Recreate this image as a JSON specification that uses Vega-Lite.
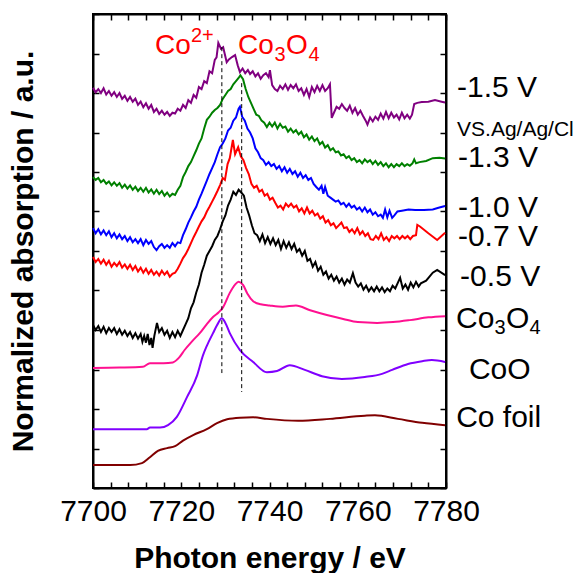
{
  "$schema": "https://vega.github.io/schema/vega-lite/v6.json",
  "width": 353,
  "height": 474,
  "autosize": {"type": "none"},
  "padding": {"left": 93, "top": 14, "right": 134, "bottom": 85},
  "config": {
    "font": "Liberation Sans",
    "view": {"stroke": "black", "strokeWidth": 2},
    "axis": {"grid": false, "domainColor": "black", "domainWidth": 2, "tickColor": "black", "tickWidth": 1.5, "labelColor": "black", "titleColor": "black", "labelFont": "Liberation Sans", "titleFont": "Liberation Sans"}
  },
  "datasets": {
    "curves": [
      {"s":"-1.5 V","e":7700,"a":10.13},{"s":"-1.5 V","e":7700.6,"a":10.02},{"s":"-1.5 V","e":7701.2,"a":10.1},{"s":"-1.5 V","e":7701.8,"a":10.0},{"s":"-1.5 V","e":7702.4,"a":10.12},{"s":"-1.5 V","e":7703,"a":9.96},{"s":"-1.5 V","e":7703.6,"a":10.05},{"s":"-1.5 V","e":7704.2,"a":9.93},{"s":"-1.5 V","e":7704.8,"a":10.02},{"s":"-1.5 V","e":7705.4,"a":9.9},{"s":"-1.5 V","e":7706,"a":10.0},{"s":"-1.5 V","e":7706.6,"a":9.85},{"s":"-1.5 V","e":7707.2,"a":9.93},{"s":"-1.5 V","e":7707.8,"a":9.8},{"s":"-1.5 V","e":7708.4,"a":9.9},{"s":"-1.5 V","e":7709,"a":9.78},{"s":"-1.5 V","e":7709.6,"a":9.86},{"s":"-1.5 V","e":7710.2,"a":9.7},{"s":"-1.5 V","e":7710.8,"a":9.78},{"s":"-1.5 V","e":7711.4,"a":9.64},{"s":"-1.5 V","e":7712,"a":9.74},{"s":"-1.5 V","e":7712.6,"a":9.6},{"s":"-1.5 V","e":7713.2,"a":9.7},{"s":"-1.5 V","e":7713.8,"a":9.52},{"s":"-1.5 V","e":7714.4,"a":9.6},{"s":"-1.5 V","e":7715,"a":9.47},{"s":"-1.5 V","e":7715.6,"a":9.55},{"s":"-1.5 V","e":7716.2,"a":9.45},{"s":"-1.5 V","e":7716.8,"a":9.52},{"s":"-1.5 V","e":7717.4,"a":9.42},{"s":"-1.5 V","e":7718,"a":9.5},{"s":"-1.5 V","e":7718.6,"a":9.48},{"s":"-1.5 V","e":7719.2,"a":9.6},{"s":"-1.5 V","e":7719.8,"a":9.55},{"s":"-1.5 V","e":7720.4,"a":9.7},{"s":"-1.5 V","e":7721,"a":9.62},{"s":"-1.5 V","e":7721.6,"a":9.82},{"s":"-1.5 V","e":7722.2,"a":9.75},{"s":"-1.5 V","e":7722.8,"a":9.95},{"s":"-1.5 V","e":7723.4,"a":9.88},{"s":"-1.5 V","e":7724,"a":10.15},{"s":"-1.5 V","e":7724.6,"a":10.1},{"s":"-1.5 V","e":7725.2,"a":10.3},{"s":"-1.5 V","e":7725.8,"a":10.25},{"s":"-1.5 V","e":7726.4,"a":10.55},{"s":"-1.5 V","e":7727,"a":10.5},{"s":"-1.5 V","e":7727.6,"a":10.84},{"s":"-1.5 V","e":7728,"a":10.9},{"s":"-1.5 V","e":7728.4,"a":11.27},{"s":"-1.5 V","e":7729,"a":11.12},{"s":"-1.5 V","e":7729.5,"a":11.16},{"s":"-1.5 V","e":7730.3,"a":10.78},{"s":"-1.5 V","e":7730.8,"a":10.85},{"s":"-1.5 V","e":7731.5,"a":10.91},{"s":"-1.5 V","e":7732.2,"a":10.96},{"s":"-1.5 V","e":7732.8,"a":10.7},{"s":"-1.5 V","e":7733.3,"a":10.53},{"s":"-1.5 V","e":7733.9,"a":10.62},{"s":"-1.5 V","e":7734.5,"a":10.5},{"s":"-1.5 V","e":7735.1,"a":10.58},{"s":"-1.5 V","e":7735.6,"a":10.48},{"s":"-1.5 V","e":7736.2,"a":10.55},{"s":"-1.5 V","e":7736.8,"a":10.42},{"s":"-1.5 V","e":7737.4,"a":10.5},{"s":"-1.5 V","e":7738,"a":10.36},{"s":"-1.5 V","e":7738.6,"a":10.45},{"s":"-1.5 V","e":7739.2,"a":10.5},{"s":"-1.5 V","e":7739.8,"a":10.4},{"s":"-1.5 V","e":7740.1,"a":10.58},{"s":"-1.5 V","e":7740.6,"a":10.2},{"s":"-1.5 V","e":7741.2,"a":10.1},{"s":"-1.5 V","e":7741.8,"a":10.05},{"s":"-1.5 V","e":7742.4,"a":10.18},{"s":"-1.5 V","e":7743,"a":10.1},{"s":"-1.5 V","e":7743.6,"a":10.22},{"s":"-1.5 V","e":7744.2,"a":10.08},{"s":"-1.5 V","e":7744.8,"a":10.2},{"s":"-1.5 V","e":7745.4,"a":10.12},{"s":"-1.5 V","e":7746,"a":10.22},{"s":"-1.5 V","e":7746.6,"a":10.05},{"s":"-1.5 V","e":7747.2,"a":10.12},{"s":"-1.5 V","e":7747.8,"a":9.95},{"s":"-1.5 V","e":7748.4,"a":10.1},{"s":"-1.5 V","e":7749,"a":9.9},{"s":"-1.5 V","e":7749.6,"a":10.15},{"s":"-1.5 V","e":7750.2,"a":10.02},{"s":"-1.5 V","e":7750.8,"a":10.18},{"s":"-1.5 V","e":7751.4,"a":10.05},{"s":"-1.5 V","e":7752,"a":10.2},{"s":"-1.5 V","e":7752.6,"a":10.05},{"s":"-1.5 V","e":7753.2,"a":10.12},{"s":"-1.5 V","e":7753.7,"a":10.22},{"s":"-1.5 V","e":7754.1,"a":9.37},{"s":"-1.5 V","e":7754.6,"a":9.5},{"s":"-1.5 V","e":7755.2,"a":9.65},{"s":"-1.5 V","e":7755.8,"a":9.6},{"s":"-1.5 V","e":7756.4,"a":9.72},{"s":"-1.5 V","e":7757,"a":9.62},{"s":"-1.5 V","e":7757.6,"a":9.55},{"s":"-1.5 V","e":7758.2,"a":9.68},{"s":"-1.5 V","e":7758.8,"a":9.5},{"s":"-1.5 V","e":7759.4,"a":9.62},{"s":"-1.5 V","e":7760,"a":9.45},{"s":"-1.5 V","e":7760.6,"a":9.55},{"s":"-1.5 V","e":7761.2,"a":9.42},{"s":"-1.5 V","e":7761.8,"a":9.3},{"s":"-1.5 V","e":7762.2,"a":9.2},{"s":"-1.5 V","e":7762.8,"a":9.38},{"s":"-1.5 V","e":7763.4,"a":9.28},{"s":"-1.5 V","e":7764,"a":9.4},{"s":"-1.5 V","e":7764.6,"a":9.32},{"s":"-1.5 V","e":7765.2,"a":9.48},{"s":"-1.5 V","e":7765.8,"a":9.35},{"s":"-1.5 V","e":7766.4,"a":9.52},{"s":"-1.5 V","e":7767,"a":9.36},{"s":"-1.5 V","e":7767.6,"a":9.5},{"s":"-1.5 V","e":7768.2,"a":9.38},{"s":"-1.5 V","e":7768.8,"a":9.45},{"s":"-1.5 V","e":7769.4,"a":9.33},{"s":"-1.5 V","e":7770,"a":9.5},{"s":"-1.5 V","e":7770.6,"a":9.36},{"s":"-1.5 V","e":7771.2,"a":9.45},{"s":"-1.5 V","e":7771.8,"a":9.35},{"s":"-1.5 V","e":7772.3,"a":9.45},{"s":"-1.5 V","e":7772.8,"a":9.72},{"s":"-1.5 V","e":7773.5,"a":9.75},{"s":"-1.5 V","e":7774.5,"a":9.77},{"s":"-1.5 V","e":7776,"a":9.78},{"s":"-1.5 V","e":7777.5,"a":9.82},{"s":"-1.5 V","e":7779,"a":9.78},{"s":"-1.5 V","e":7779.8,"a":9.76},

      {"s":"-1.3 V","e":7700,"a":7.87},{"s":"-1.3 V","e":7700.6,"a":7.8},{"s":"-1.3 V","e":7701.2,"a":7.85},{"s":"-1.3 V","e":7701.8,"a":7.74},{"s":"-1.3 V","e":7702.4,"a":7.8},{"s":"-1.3 V","e":7703,"a":7.7},{"s":"-1.3 V","e":7703.6,"a":7.76},{"s":"-1.3 V","e":7704.2,"a":7.66},{"s":"-1.3 V","e":7704.8,"a":7.74},{"s":"-1.3 V","e":7705.4,"a":7.65},{"s":"-1.3 V","e":7706,"a":7.72},{"s":"-1.3 V","e":7706.6,"a":7.6},{"s":"-1.3 V","e":7707.2,"a":7.68},{"s":"-1.3 V","e":7707.8,"a":7.58},{"s":"-1.3 V","e":7708.4,"a":7.66},{"s":"-1.3 V","e":7709,"a":7.55},{"s":"-1.3 V","e":7709.6,"a":7.63},{"s":"-1.3 V","e":7710.2,"a":7.52},{"s":"-1.3 V","e":7710.8,"a":7.6},{"s":"-1.3 V","e":7711.4,"a":7.5},{"s":"-1.3 V","e":7712,"a":7.6},{"s":"-1.3 V","e":7712.6,"a":7.48},{"s":"-1.3 V","e":7713.2,"a":7.56},{"s":"-1.3 V","e":7713.8,"a":7.45},{"s":"-1.3 V","e":7714.4,"a":7.55},{"s":"-1.3 V","e":7715,"a":7.44},{"s":"-1.3 V","e":7715.6,"a":7.52},{"s":"-1.3 V","e":7716.2,"a":7.4},{"s":"-1.3 V","e":7716.8,"a":7.48},{"s":"-1.3 V","e":7717.4,"a":7.38},{"s":"-1.3 V","e":7718,"a":7.45},{"s":"-1.3 V","e":7718.6,"a":7.42},{"s":"-1.3 V","e":7719.2,"a":7.55},{"s":"-1.3 V","e":7719.8,"a":7.65},{"s":"-1.3 V","e":7720.4,"a":7.87},{"s":"-1.3 V","e":7721,"a":8.0},{"s":"-1.3 V","e":7721.6,"a":8.15},{"s":"-1.3 V","e":7722.2,"a":8.25},{"s":"-1.3 V","e":7722.8,"a":8.4},{"s":"-1.3 V","e":7723.4,"a":8.55},{"s":"-1.3 V","e":7724,"a":8.72},{"s":"-1.3 V","e":7724.6,"a":8.85},{"s":"-1.3 V","e":7725.2,"a":9.1},{"s":"-1.3 V","e":7725.8,"a":9.32},{"s":"-1.3 V","e":7726.4,"a":9.4},{"s":"-1.3 V","e":7727,"a":9.5},{"s":"-1.3 V","e":7727.6,"a":9.57},{"s":"-1.3 V","e":7728.2,"a":9.62},{"s":"-1.3 V","e":7728.8,"a":9.7},{"s":"-1.3 V","e":7729.4,"a":9.85},{"s":"-1.3 V","e":7730,"a":9.95},{"s":"-1.3 V","e":7730.6,"a":10.05},{"s":"-1.3 V","e":7731.2,"a":10.1},{"s":"-1.3 V","e":7731.8,"a":10.22},{"s":"-1.3 V","e":7732.4,"a":10.3},{"s":"-1.3 V","e":7733,"a":10.38},{"s":"-1.3 V","e":7733.4,"a":10.45},{"s":"-1.3 V","e":7734,"a":10.35},{"s":"-1.3 V","e":7734.6,"a":10.1},{"s":"-1.3 V","e":7735.2,"a":9.9},{"s":"-1.3 V","e":7735.8,"a":9.75},{"s":"-1.3 V","e":7736.4,"a":9.6},{"s":"-1.3 V","e":7737,"a":9.45},{"s":"-1.3 V","e":7737.6,"a":9.42},{"s":"-1.3 V","e":7738.2,"a":9.3},{"s":"-1.3 V","e":7738.8,"a":9.25},{"s":"-1.3 V","e":7739.4,"a":9.14},{"s":"-1.3 V","e":7740,"a":9.25},{"s":"-1.3 V","e":7740.6,"a":9.15},{"s":"-1.3 V","e":7741.2,"a":9.25},{"s":"-1.3 V","e":7741.8,"a":9.1},{"s":"-1.3 V","e":7742.4,"a":9.22},{"s":"-1.3 V","e":7743,"a":9.12},{"s":"-1.3 V","e":7743.6,"a":9.15},{"s":"-1.3 V","e":7744.2,"a":9.02},{"s":"-1.3 V","e":7744.8,"a":9.1},{"s":"-1.3 V","e":7745.4,"a":9.0},{"s":"-1.3 V","e":7746,"a":9.06},{"s":"-1.3 V","e":7746.6,"a":8.95},{"s":"-1.3 V","e":7747.2,"a":9.02},{"s":"-1.3 V","e":7747.8,"a":8.88},{"s":"-1.3 V","e":7748.4,"a":8.95},{"s":"-1.3 V","e":7749,"a":8.82},{"s":"-1.3 V","e":7749.6,"a":8.9},{"s":"-1.3 V","e":7750.2,"a":8.78},{"s":"-1.3 V","e":7750.8,"a":8.85},{"s":"-1.3 V","e":7751.4,"a":8.7},{"s":"-1.3 V","e":7752,"a":8.76},{"s":"-1.3 V","e":7752.6,"a":8.62},{"s":"-1.3 V","e":7753.2,"a":8.68},{"s":"-1.3 V","e":7753.8,"a":8.55},{"s":"-1.3 V","e":7754.4,"a":8.6},{"s":"-1.3 V","e":7755,"a":8.5},{"s":"-1.3 V","e":7755.6,"a":8.52},{"s":"-1.3 V","e":7756.2,"a":8.42},{"s":"-1.3 V","e":7756.8,"a":8.45},{"s":"-1.3 V","e":7757.4,"a":8.35},{"s":"-1.3 V","e":7758,"a":8.4},{"s":"-1.3 V","e":7758.6,"a":8.3},{"s":"-1.3 V","e":7759.2,"a":8.35},{"s":"-1.3 V","e":7759.8,"a":8.25},{"s":"-1.3 V","e":7760.4,"a":8.3},{"s":"-1.3 V","e":7761,"a":8.22},{"s":"-1.3 V","e":7761.6,"a":8.32},{"s":"-1.3 V","e":7762.2,"a":8.25},{"s":"-1.3 V","e":7762.8,"a":8.3},{"s":"-1.3 V","e":7763.4,"a":8.2},{"s":"-1.3 V","e":7764,"a":8.28},{"s":"-1.3 V","e":7764.6,"a":8.18},{"s":"-1.3 V","e":7765.2,"a":8.25},{"s":"-1.3 V","e":7765.8,"a":8.15},{"s":"-1.3 V","e":7766.4,"a":8.22},{"s":"-1.3 V","e":7767,"a":8.12},{"s":"-1.3 V","e":7767.6,"a":8.2},{"s":"-1.3 V","e":7768.2,"a":8.12},{"s":"-1.3 V","e":7768.8,"a":8.2},{"s":"-1.3 V","e":7769.4,"a":8.15},{"s":"-1.3 V","e":7770,"a":8.22},{"s":"-1.3 V","e":7770.6,"a":8.15},{"s":"-1.3 V","e":7771.2,"a":8.2},{"s":"-1.3 V","e":7771.8,"a":8.16},{"s":"-1.3 V","e":7772.4,"a":8.22},{"s":"-1.3 V","e":7772.8,"a":8.32},{"s":"-1.3 V","e":7773.2,"a":8.22},{"s":"-1.3 V","e":7774,"a":8.25},{"s":"-1.3 V","e":7775.5,"a":8.28},{"s":"-1.3 V","e":7777,"a":8.35},{"s":"-1.3 V","e":7778.5,"a":8.36},{"s":"-1.3 V","e":7779.8,"a":8.34},

      {"s":"-1.0 V","e":7700,"a":6.58},{"s":"-1.0 V","e":7700.6,"a":6.45},{"s":"-1.0 V","e":7701.2,"a":6.55},{"s":"-1.0 V","e":7701.8,"a":6.42},{"s":"-1.0 V","e":7702.4,"a":6.52},{"s":"-1.0 V","e":7703,"a":6.4},{"s":"-1.0 V","e":7703.6,"a":6.5},{"s":"-1.0 V","e":7704.2,"a":6.35},{"s":"-1.0 V","e":7704.8,"a":6.45},{"s":"-1.0 V","e":7705.4,"a":6.32},{"s":"-1.0 V","e":7706,"a":6.42},{"s":"-1.0 V","e":7706.6,"a":6.3},{"s":"-1.0 V","e":7707.2,"a":6.38},{"s":"-1.0 V","e":7707.8,"a":6.25},{"s":"-1.0 V","e":7708.4,"a":6.35},{"s":"-1.0 V","e":7709,"a":6.22},{"s":"-1.0 V","e":7709.6,"a":6.3},{"s":"-1.0 V","e":7710.2,"a":6.2},{"s":"-1.0 V","e":7710.8,"a":6.3},{"s":"-1.0 V","e":7711.4,"a":6.15},{"s":"-1.0 V","e":7712,"a":6.28},{"s":"-1.0 V","e":7712.6,"a":6.18},{"s":"-1.0 V","e":7713.2,"a":6.25},{"s":"-1.0 V","e":7713.8,"a":6.1},{"s":"-1.0 V","e":7714.4,"a":6.02},{"s":"-1.0 V","e":7715,"a":6.12},{"s":"-1.0 V","e":7715.6,"a":6.18},{"s":"-1.0 V","e":7716.2,"a":6.08},{"s":"-1.0 V","e":7716.8,"a":6.15},{"s":"-1.0 V","e":7717.4,"a":6.08},{"s":"-1.0 V","e":7718,"a":6.2},{"s":"-1.0 V","e":7718.6,"a":6.12},{"s":"-1.0 V","e":7719.2,"a":6.22},{"s":"-1.0 V","e":7719.8,"a":6.2},{"s":"-1.0 V","e":7720.4,"a":6.4},{"s":"-1.0 V","e":7721,"a":6.55},{"s":"-1.0 V","e":7721.6,"a":6.72},{"s":"-1.0 V","e":7722.2,"a":6.85},{"s":"-1.0 V","e":7722.8,"a":7.0},{"s":"-1.0 V","e":7723.4,"a":7.12},{"s":"-1.0 V","e":7724,"a":7.3},{"s":"-1.0 V","e":7724.6,"a":7.45},{"s":"-1.0 V","e":7725.2,"a":7.62},{"s":"-1.0 V","e":7725.8,"a":7.78},{"s":"-1.0 V","e":7726.4,"a":7.95},{"s":"-1.0 V","e":7727,"a":8.1},{"s":"-1.0 V","e":7727.6,"a":8.25},{"s":"-1.0 V","e":7728.2,"a":8.45},{"s":"-1.0 V","e":7728.8,"a":8.63},{"s":"-1.0 V","e":7729.4,"a":8.72},{"s":"-1.0 V","e":7730,"a":8.85},{"s":"-1.0 V","e":7730.6,"a":9.05},{"s":"-1.0 V","e":7731.2,"a":9.12},{"s":"-1.0 V","e":7731.8,"a":9.3},{"s":"-1.0 V","e":7732.4,"a":9.38},{"s":"-1.0 V","e":7733,"a":9.6},{"s":"-1.0 V","e":7733.3,"a":9.65},{"s":"-1.0 V","e":7733.8,"a":9.4},{"s":"-1.0 V","e":7734.4,"a":9.3},{"s":"-1.0 V","e":7735,"a":9.1},{"s":"-1.0 V","e":7735.6,"a":9.0},{"s":"-1.0 V","e":7736.2,"a":8.85},{"s":"-1.0 V","e":7736.8,"a":8.6},{"s":"-1.0 V","e":7737.4,"a":8.5},{"s":"-1.0 V","e":7738,"a":8.35},{"s":"-1.0 V","e":7738.6,"a":8.3},{"s":"-1.0 V","e":7739.2,"a":8.18},{"s":"-1.0 V","e":7739.8,"a":8.25},{"s":"-1.0 V","e":7740.4,"a":8.15},{"s":"-1.0 V","e":7741,"a":8.2},{"s":"-1.0 V","e":7741.6,"a":8.08},{"s":"-1.0 V","e":7742.2,"a":8.15},{"s":"-1.0 V","e":7742.8,"a":8.02},{"s":"-1.0 V","e":7743.4,"a":8.12},{"s":"-1.0 V","e":7744,"a":7.98},{"s":"-1.0 V","e":7744.6,"a":8.08},{"s":"-1.0 V","e":7745.2,"a":7.95},{"s":"-1.0 V","e":7745.8,"a":8.02},{"s":"-1.0 V","e":7746.4,"a":7.88},{"s":"-1.0 V","e":7747,"a":7.98},{"s":"-1.0 V","e":7747.6,"a":7.85},{"s":"-1.0 V","e":7748.2,"a":7.92},{"s":"-1.0 V","e":7748.8,"a":7.8},{"s":"-1.0 V","e":7749.4,"a":7.85},{"s":"-1.0 V","e":7750,"a":7.7},{"s":"-1.0 V","e":7750.6,"a":7.62},{"s":"-1.0 V","e":7751.2,"a":7.55},{"s":"-1.0 V","e":7751.8,"a":7.65},{"s":"-1.0 V","e":7752.2,"a":7.45},{"s":"-1.0 V","e":7752.6,"a":7.62},{"s":"-1.0 V","e":7753.2,"a":7.4},{"s":"-1.0 V","e":7753.8,"a":7.35},{"s":"-1.0 V","e":7754.4,"a":7.3},{"s":"-1.0 V","e":7755,"a":7.25},{"s":"-1.0 V","e":7755.6,"a":7.28},{"s":"-1.0 V","e":7756.2,"a":7.18},{"s":"-1.0 V","e":7756.8,"a":7.22},{"s":"-1.0 V","e":7757.4,"a":7.12},{"s":"-1.0 V","e":7758,"a":7.2},{"s":"-1.0 V","e":7758.6,"a":7.1},{"s":"-1.0 V","e":7759.2,"a":7.15},{"s":"-1.0 V","e":7759.8,"a":7.05},{"s":"-1.0 V","e":7760.4,"a":7.1},{"s":"-1.0 V","e":7761,"a":7.0},{"s":"-1.0 V","e":7761.6,"a":7.1},{"s":"-1.0 V","e":7762.2,"a":6.98},{"s":"-1.0 V","e":7762.8,"a":7.05},{"s":"-1.0 V","e":7763.4,"a":6.92},{"s":"-1.0 V","e":7764,"a":6.98},{"s":"-1.0 V","e":7764.6,"a":6.88},{"s":"-1.0 V","e":7765.2,"a":6.92},{"s":"-1.0 V","e":7765.7,"a":6.84},{"s":"-1.0 V","e":7766.2,"a":7.05},{"s":"-1.0 V","e":7766.7,"a":6.85},{"s":"-1.0 V","e":7767.2,"a":7.02},{"s":"-1.0 V","e":7767.8,"a":6.84},{"s":"-1.0 V","e":7768.3,"a":6.9},{"s":"-1.0 V","e":7769,"a":7.0},{"s":"-1.0 V","e":7770,"a":7.02},{"s":"-1.0 V","e":7771.5,"a":7.05},{"s":"-1.0 V","e":7773,"a":7.04},{"s":"-1.0 V","e":7775,"a":7.04},{"s":"-1.0 V","e":7777,"a":7.05},{"s":"-1.0 V","e":7778.5,"a":7.1},{"s":"-1.0 V","e":7779.8,"a":7.14},

      {"s":"-0.7 V","e":7700,"a":5.85},{"s":"-0.7 V","e":7700.6,"a":5.72},{"s":"-0.7 V","e":7701.2,"a":5.8},{"s":"-0.7 V","e":7701.8,"a":5.68},{"s":"-0.7 V","e":7702.4,"a":5.78},{"s":"-0.7 V","e":7703,"a":5.65},{"s":"-0.7 V","e":7703.6,"a":5.75},{"s":"-0.7 V","e":7704.2,"a":5.6},{"s":"-0.7 V","e":7704.8,"a":5.7},{"s":"-0.7 V","e":7705.4,"a":5.62},{"s":"-0.7 V","e":7706,"a":5.72},{"s":"-0.7 V","e":7706.6,"a":5.58},{"s":"-0.7 V","e":7707.2,"a":5.66},{"s":"-0.7 V","e":7707.8,"a":5.55},{"s":"-0.7 V","e":7708.4,"a":5.65},{"s":"-0.7 V","e":7709,"a":5.52},{"s":"-0.7 V","e":7709.6,"a":5.62},{"s":"-0.7 V","e":7710.2,"a":5.48},{"s":"-0.7 V","e":7710.8,"a":5.58},{"s":"-0.7 V","e":7711.4,"a":5.45},{"s":"-0.7 V","e":7712,"a":5.55},{"s":"-0.7 V","e":7712.6,"a":5.42},{"s":"-0.7 V","e":7713.2,"a":5.52},{"s":"-0.7 V","e":7713.8,"a":5.4},{"s":"-0.7 V","e":7714.4,"a":5.48},{"s":"-0.7 V","e":7715,"a":5.38},{"s":"-0.7 V","e":7715.6,"a":5.5},{"s":"-0.7 V","e":7716.2,"a":5.4},{"s":"-0.7 V","e":7716.8,"a":5.48},{"s":"-0.7 V","e":7717.4,"a":5.35},{"s":"-0.7 V","e":7718,"a":5.42},{"s":"-0.7 V","e":7718.6,"a":5.45},{"s":"-0.7 V","e":7719.2,"a":5.55},{"s":"-0.7 V","e":7719.8,"a":5.68},{"s":"-0.7 V","e":7720.4,"a":5.82},{"s":"-0.7 V","e":7721,"a":5.92},{"s":"-0.7 V","e":7721.6,"a":6.05},{"s":"-0.7 V","e":7722.2,"a":6.2},{"s":"-0.7 V","e":7722.8,"a":6.35},{"s":"-0.7 V","e":7723.4,"a":6.48},{"s":"-0.7 V","e":7724,"a":6.62},{"s":"-0.7 V","e":7724.6,"a":6.75},{"s":"-0.7 V","e":7725.2,"a":6.85},{"s":"-0.7 V","e":7725.8,"a":7.0},{"s":"-0.7 V","e":7726.4,"a":7.12},{"s":"-0.7 V","e":7727,"a":7.25},{"s":"-0.7 V","e":7727.6,"a":7.38},{"s":"-0.7 V","e":7728.2,"a":7.52},{"s":"-0.7 V","e":7728.8,"a":7.67},{"s":"-0.7 V","e":7729.4,"a":7.85},{"s":"-0.7 V","e":7729.9,"a":7.8},{"s":"-0.7 V","e":7730.5,"a":8.2},{"s":"-0.7 V","e":7731,"a":8.35},{"s":"-0.7 V","e":7731.7,"a":8.81},{"s":"-0.7 V","e":7732.2,"a":8.45},{"s":"-0.7 V","e":7732.9,"a":8.63},{"s":"-0.7 V","e":7733.5,"a":8.4},{"s":"-0.7 V","e":7734.1,"a":8.3},{"s":"-0.7 V","e":7734.7,"a":8.1},{"s":"-0.7 V","e":7735.3,"a":7.95},{"s":"-0.7 V","e":7735.9,"a":7.7},{"s":"-0.7 V","e":7736.5,"a":7.6},{"s":"-0.7 V","e":7737.1,"a":7.65},{"s":"-0.7 V","e":7737.7,"a":7.5},{"s":"-0.7 V","e":7738.3,"a":7.55},{"s":"-0.7 V","e":7738.9,"a":7.4},{"s":"-0.7 V","e":7739.5,"a":7.45},{"s":"-0.7 V","e":7740.1,"a":7.3},{"s":"-0.7 V","e":7740.7,"a":7.35},{"s":"-0.7 V","e":7741.3,"a":7.22},{"s":"-0.7 V","e":7741.9,"a":7.1},{"s":"-0.7 V","e":7742.5,"a":7.15},{"s":"-0.7 V","e":7743.1,"a":7.05},{"s":"-0.7 V","e":7743.7,"a":7.2},{"s":"-0.7 V","e":7744.3,"a":7.12},{"s":"-0.7 V","e":7744.9,"a":7.2},{"s":"-0.7 V","e":7745.5,"a":7.1},{"s":"-0.7 V","e":7746.1,"a":7.15},{"s":"-0.7 V","e":7746.7,"a":7.0},{"s":"-0.7 V","e":7747.3,"a":7.08},{"s":"-0.7 V","e":7747.9,"a":6.95},{"s":"-0.7 V","e":7748.5,"a":7.1},{"s":"-0.7 V","e":7749.1,"a":6.95},{"s":"-0.7 V","e":7749.7,"a":7.02},{"s":"-0.7 V","e":7750.3,"a":6.9},{"s":"-0.7 V","e":7750.9,"a":6.95},{"s":"-0.7 V","e":7751.5,"a":6.82},{"s":"-0.7 V","e":7752.1,"a":6.88},{"s":"-0.7 V","e":7752.7,"a":6.72},{"s":"-0.7 V","e":7753.3,"a":6.78},{"s":"-0.7 V","e":7753.9,"a":6.65},{"s":"-0.7 V","e":7754.5,"a":6.7},{"s":"-0.7 V","e":7755.1,"a":6.58},{"s":"-0.7 V","e":7755.7,"a":6.65},{"s":"-0.7 V","e":7756.3,"a":6.72},{"s":"-0.7 V","e":7756.9,"a":6.58},{"s":"-0.7 V","e":7757.5,"a":6.6},{"s":"-0.7 V","e":7758.1,"a":6.48},{"s":"-0.7 V","e":7758.7,"a":6.55},{"s":"-0.7 V","e":7759.3,"a":6.45},{"s":"-0.7 V","e":7759.9,"a":6.58},{"s":"-0.7 V","e":7760.5,"a":6.42},{"s":"-0.7 V","e":7761.1,"a":6.5},{"s":"-0.7 V","e":7761.7,"a":6.38},{"s":"-0.7 V","e":7762.3,"a":6.45},{"s":"-0.7 V","e":7762.9,"a":6.3},{"s":"-0.7 V","e":7763.5,"a":6.28},{"s":"-0.7 V","e":7764.1,"a":6.38},{"s":"-0.7 V","e":7764.7,"a":6.3},{"s":"-0.7 V","e":7765.3,"a":6.45},{"s":"-0.7 V","e":7765.9,"a":6.28},{"s":"-0.7 V","e":7766.5,"a":6.35},{"s":"-0.7 V","e":7767.1,"a":6.25},{"s":"-0.7 V","e":7767.7,"a":6.38},{"s":"-0.7 V","e":7768.3,"a":6.32},{"s":"-0.7 V","e":7768.9,"a":6.38},{"s":"-0.7 V","e":7769.5,"a":6.3},{"s":"-0.7 V","e":7770.1,"a":6.38},{"s":"-0.7 V","e":7770.7,"a":6.32},{"s":"-0.7 V","e":7771.3,"a":6.38},{"s":"-0.7 V","e":7771.9,"a":6.3},{"s":"-0.7 V","e":7772.5,"a":6.38},{"s":"-0.7 V","e":7773.2,"a":6.4},{"s":"-0.7 V","e":7773.5,"a":6.66},{"s":"-0.7 V","e":7774.1,"a":6.62},{"s":"-0.7 V","e":7776,"a":6.45},{"s":"-0.7 V","e":7778,"a":6.28},{"s":"-0.7 V","e":7779.8,"a":6.46},

      {"s":"-0.5 V","e":7700,"a":4.13},{"s":"-0.5 V","e":7700.6,"a":4.0},{"s":"-0.5 V","e":7701.2,"a":4.1},{"s":"-0.5 V","e":7701.8,"a":3.95},{"s":"-0.5 V","e":7702.4,"a":4.08},{"s":"-0.5 V","e":7703,"a":3.92},{"s":"-0.5 V","e":7703.6,"a":4.05},{"s":"-0.5 V","e":7704.2,"a":3.95},{"s":"-0.5 V","e":7704.8,"a":4.05},{"s":"-0.5 V","e":7705.4,"a":3.9},{"s":"-0.5 V","e":7706,"a":4.02},{"s":"-0.5 V","e":7706.6,"a":3.88},{"s":"-0.5 V","e":7707.2,"a":3.98},{"s":"-0.5 V","e":7707.8,"a":3.85},{"s":"-0.5 V","e":7708.4,"a":3.95},{"s":"-0.5 V","e":7709,"a":3.8},{"s":"-0.5 V","e":7709.6,"a":3.92},{"s":"-0.5 V","e":7710.2,"a":3.78},{"s":"-0.5 V","e":7710.8,"a":3.9},{"s":"-0.5 V","e":7711.2,"a":3.7},{"s":"-0.5 V","e":7711.6,"a":3.85},{"s":"-0.5 V","e":7712,"a":3.68},{"s":"-0.5 V","e":7712.4,"a":3.9},{"s":"-0.5 V","e":7712.8,"a":3.62},{"s":"-0.5 V","e":7713.2,"a":3.8},{"s":"-0.5 V","e":7713.5,"a":3.55},{"s":"-0.5 V","e":7713.9,"a":3.85},{"s":"-0.5 V","e":7714.5,"a":4.18},{"s":"-0.5 V","e":7715,"a":3.95},{"s":"-0.5 V","e":7715.6,"a":4.05},{"s":"-0.5 V","e":7716.2,"a":3.88},{"s":"-0.5 V","e":7716.8,"a":3.98},{"s":"-0.5 V","e":7717.4,"a":3.8},{"s":"-0.5 V","e":7718,"a":3.95},{"s":"-0.5 V","e":7718.6,"a":3.82},{"s":"-0.5 V","e":7719.2,"a":3.98},{"s":"-0.5 V","e":7719.8,"a":3.85},{"s":"-0.5 V","e":7720.4,"a":4.0},{"s":"-0.5 V","e":7721,"a":4.15},{"s":"-0.5 V","e":7721.6,"a":4.3},{"s":"-0.5 V","e":7722.2,"a":4.55},{"s":"-0.5 V","e":7722.8,"a":4.7},{"s":"-0.5 V","e":7723.4,"a":4.95},{"s":"-0.5 V","e":7724,"a":5.15},{"s":"-0.5 V","e":7724.6,"a":5.45},{"s":"-0.5 V","e":7725.2,"a":5.65},{"s":"-0.5 V","e":7725.8,"a":5.88},{"s":"-0.5 V","e":7726.4,"a":6.0},{"s":"-0.5 V","e":7727,"a":6.12},{"s":"-0.5 V","e":7727.6,"a":6.28},{"s":"-0.5 V","e":7728.2,"a":6.38},{"s":"-0.5 V","e":7728.8,"a":6.55},{"s":"-0.5 V","e":7729.4,"a":6.75},{"s":"-0.5 V","e":7730,"a":6.9},{"s":"-0.5 V","e":7730.6,"a":7.15},{"s":"-0.5 V","e":7731.2,"a":7.3},{"s":"-0.5 V","e":7731.8,"a":7.5},{"s":"-0.5 V","e":7732.4,"a":7.42},{"s":"-0.5 V","e":7733,"a":7.55},{"s":"-0.5 V","e":7733.6,"a":7.48},{"s":"-0.5 V","e":7734.2,"a":7.4},{"s":"-0.5 V","e":7734.8,"a":7.1},{"s":"-0.5 V","e":7735.4,"a":6.9},{"s":"-0.5 V","e":7736,"a":6.65},{"s":"-0.5 V","e":7736.6,"a":6.45},{"s":"-0.5 V","e":7737.2,"a":6.4},{"s":"-0.5 V","e":7737.8,"a":6.25},{"s":"-0.5 V","e":7738.4,"a":6.42},{"s":"-0.5 V","e":7739,"a":6.2},{"s":"-0.5 V","e":7739.6,"a":6.35},{"s":"-0.5 V","e":7740.2,"a":6.18},{"s":"-0.5 V","e":7740.8,"a":6.32},{"s":"-0.5 V","e":7741.4,"a":6.15},{"s":"-0.5 V","e":7742,"a":6.28},{"s":"-0.5 V","e":7742.6,"a":6.05},{"s":"-0.5 V","e":7743.2,"a":6.25},{"s":"-0.5 V","e":7743.8,"a":6.08},{"s":"-0.5 V","e":7744.4,"a":6.22},{"s":"-0.5 V","e":7745,"a":6.05},{"s":"-0.5 V","e":7745.6,"a":6.18},{"s":"-0.5 V","e":7746.2,"a":5.98},{"s":"-0.5 V","e":7746.8,"a":6.05},{"s":"-0.5 V","e":7747.4,"a":5.88},{"s":"-0.5 V","e":7748,"a":6.0},{"s":"-0.5 V","e":7748.6,"a":5.75},{"s":"-0.5 V","e":7749.2,"a":5.8},{"s":"-0.5 V","e":7749.8,"a":5.6},{"s":"-0.5 V","e":7750.4,"a":5.72},{"s":"-0.5 V","e":7751,"a":5.5},{"s":"-0.5 V","e":7751.6,"a":5.6},{"s":"-0.5 V","e":7752.2,"a":5.4},{"s":"-0.5 V","e":7752.8,"a":5.48},{"s":"-0.5 V","e":7753.4,"a":5.3},{"s":"-0.5 V","e":7754,"a":5.4},{"s":"-0.5 V","e":7754.6,"a":5.25},{"s":"-0.5 V","e":7755.2,"a":5.35},{"s":"-0.5 V","e":7755.8,"a":5.2},{"s":"-0.5 V","e":7756.4,"a":5.3},{"s":"-0.5 V","e":7757,"a":5.15},{"s":"-0.5 V","e":7757.6,"a":5.28},{"s":"-0.5 V","e":7758.2,"a":5.2},{"s":"-0.5 V","e":7758.9,"a":5.44},{"s":"-0.5 V","e":7759.5,"a":5.2},{"s":"-0.5 V","e":7760.1,"a":5.1},{"s":"-0.5 V","e":7760.7,"a":5.18},{"s":"-0.5 V","e":7761.3,"a":5.02},{"s":"-0.5 V","e":7761.9,"a":5.12},{"s":"-0.5 V","e":7762.5,"a":4.98},{"s":"-0.5 V","e":7763.1,"a":5.08},{"s":"-0.5 V","e":7763.7,"a":4.98},{"s":"-0.5 V","e":7764.3,"a":5.1},{"s":"-0.5 V","e":7764.9,"a":4.98},{"s":"-0.5 V","e":7765.5,"a":5.08},{"s":"-0.5 V","e":7766.1,"a":4.96},{"s":"-0.5 V","e":7766.7,"a":5.05},{"s":"-0.5 V","e":7767.3,"a":4.98},{"s":"-0.5 V","e":7767.9,"a":5.12},{"s":"-0.5 V","e":7768.5,"a":5.05},{"s":"-0.5 V","e":7769.1,"a":5.2},{"s":"-0.5 V","e":7769.6,"a":5.32},{"s":"-0.5 V","e":7770.2,"a":5.05},{"s":"-0.5 V","e":7770.8,"a":5.15},{"s":"-0.5 V","e":7771.4,"a":5.02},{"s":"-0.5 V","e":7772,"a":5.2},{"s":"-0.5 V","e":7772.6,"a":5.08},{"s":"-0.5 V","e":7773.2,"a":5.22},{"s":"-0.5 V","e":7773.8,"a":5.1},{"s":"-0.5 V","e":7774.3,"a":5.18},{"s":"-0.5 V","e":7775.5,"a":5.25},{"s":"-0.5 V","e":7777,"a":5.45},{"s":"-0.5 V","e":7778,"a":5.52},{"s":"-0.5 V","e":7779.8,"a":5.39}
    ],
    "smooth": [
      {"s":"Co3O4","e":7700,"a":3.04},{"s":"Co3O4","e":7706,"a":3.05},{"s":"Co3O4","e":7711.3,"a":3.07},{"s":"Co3O4","e":7712.9,"a":3.16},{"s":"Co3O4","e":7716,"a":3.16},{"s":"Co3O4","e":7718.1,"a":3.18},{"s":"Co3O4","e":7719.5,"a":3.3},{"s":"Co3O4","e":7720.8,"a":3.5},{"s":"Co3O4","e":7722.5,"a":3.72},{"s":"Co3O4","e":7724.2,"a":3.92},{"s":"Co3O4","e":7725.8,"a":4.15},{"s":"Co3O4","e":7727.2,"a":4.33},{"s":"Co3O4","e":7728.5,"a":4.45},{"s":"Co3O4","e":7729.5,"a":4.58},{"s":"Co3O4","e":7731,"a":4.94},{"s":"Co3O4","e":7732.2,"a":5.15},{"s":"Co3O4","e":7733,"a":5.22},{"s":"Co3O4","e":7734,"a":5.14},{"s":"Co3O4","e":7735,"a":4.92},{"s":"Co3O4","e":7736.3,"a":4.73},{"s":"Co3O4","e":7738,"a":4.65},{"s":"Co3O4","e":7740,"a":4.62},{"s":"Co3O4","e":7743,"a":4.59},{"s":"Co3O4","e":7746,"a":4.62},{"s":"Co3O4","e":7749.2,"a":4.5},{"s":"Co3O4","e":7753,"a":4.38},{"s":"Co3O4","e":7756.7,"a":4.28},{"s":"Co3O4","e":7760,"a":4.2},{"s":"Co3O4","e":7764.4,"a":4.18},{"s":"Co3O4","e":7768,"a":4.2},{"s":"Co3O4","e":7771.8,"a":4.25},{"s":"Co3O4","e":7776,"a":4.32},{"s":"Co3O4","e":7779.8,"a":4.35},

      {"s":"CoO","e":7700,"a":1.49},{"s":"CoO","e":7706,"a":1.49},{"s":"CoO","e":7712.2,"a":1.49},{"s":"CoO","e":7712.9,"a":1.53},{"s":"CoO","e":7715.2,"a":1.53},{"s":"CoO","e":7717,"a":1.59},{"s":"CoO","e":7719,"a":1.8},{"s":"CoO","e":7721.3,"a":2.3},{"s":"CoO","e":7723.6,"a":2.85},{"s":"CoO","e":7724.9,"a":3.35},{"s":"CoO","e":7725.8,"a":3.6},{"s":"CoO","e":7727.2,"a":3.92},{"s":"CoO","e":7728.1,"a":4.12},{"s":"CoO","e":7729.2,"a":4.3},{"s":"CoO","e":7730,"a":4.18},{"s":"CoO","e":7731,"a":3.92},{"s":"CoO","e":7733.3,"a":3.49},{"s":"CoO","e":7736.3,"a":3.19},{"s":"CoO","e":7739.4,"a":2.93},{"s":"CoO","e":7741.7,"a":2.96},{"s":"CoO","e":7744.6,"a":3.11},{"s":"CoO","e":7748,"a":2.99},{"s":"CoO","e":7751.9,"a":2.83},{"s":"CoO","e":7756.4,"a":2.76},{"s":"CoO","e":7761.6,"a":2.81},{"s":"CoO","e":7765.5,"a":2.89},{"s":"CoO","e":7767.8,"a":2.99},{"s":"CoO","e":7771.4,"a":3.14},{"s":"CoO","e":7774.6,"a":3.21},{"s":"CoO","e":7776.8,"a":3.24},{"s":"CoO","e":7779.8,"a":3.19},

      {"s":"Co foil","e":7700,"a":0.58},{"s":"Co foil","e":7708.4,"a":0.58},{"s":"Co foil","e":7711.1,"a":0.63},{"s":"Co foil","e":7712.9,"a":0.78},{"s":"Co foil","e":7714.7,"a":0.94},{"s":"Co foil","e":7716.8,"a":1.01},{"s":"Co foil","e":7718.6,"a":1.06},{"s":"Co foil","e":7720.4,"a":1.2},{"s":"Co foil","e":7722.7,"a":1.34},{"s":"Co foil","e":7725.8,"a":1.49},{"s":"Co foil","e":7728.1,"a":1.64},{"s":"Co foil","e":7730.4,"a":1.74},{"s":"Co foil","e":7733.3,"a":1.78},{"s":"Co foil","e":7736.3,"a":1.79},{"s":"Co foil","e":7739.4,"a":1.75},{"s":"Co foil","e":7746.5,"a":1.7},{"s":"Co foil","e":7753.7,"a":1.75},{"s":"Co foil","e":7761.6,"a":1.83},{"s":"Co foil","e":7763.9,"a":1.84},{"s":"Co foil","e":7769.1,"a":1.75},{"s":"Co foil","e":7774.6,"a":1.65},{"s":"Co foil","e":7779.8,"a":1.59}
    ],
    "refs": [
      {"e": 7729.2, "top": 11.16, "bottom": 2.91},
      {"e": 7733.7, "top": 10.25, "bottom": 2.43}
    ],
    "labels": [
      {"t": "-1.5 V", "e": 7782.5, "a": 10.13},
      {"t": "-1.3 V", "e": 7782.7, "a": 8.35},
      {"t": "-1.0 V", "e": 7782.7, "a": 7.09},
      {"t": "-0.7 V", "e": 7782.7, "a": 6.35},
      {"t": "-0.5 V", "e": 7783.2, "a": 5.34},
      {"t": "Co", "e": 7782.27, "a": 4.29},
      {"t": "O", "e": 7793.6, "a": 4.29},
      {"t": "CoO", "e": 7785.2, "a": 2.99},
      {"t": "Co foil", "e": 7782.3, "a": 1.77}
    ],
    "labelSubs": [
      {"t": "3", "e": 7790.99, "a": 4.29},
      {"t": "4", "e": 7798.92, "a": 4.29}
    ],
    "note": [
      {"t": "VS.Ag/Ag/Cl", "e": 7782.5, "a": 9.06}
    ],
    "species": [
      {"t": "Co", "e": 7714.05, "a": 11.19},
      {"t": "Co", "e": 7732.86, "a": 11.19},
      {"t": "O", "e": 7743.74, "a": 11.19}
    ],
    "speciesSup": [
      {"t": "2+", "e": 7722.21, "a": 11.19}
    ],
    "speciesSub": [
      {"t": "3", "e": 7741.13, "a": 11.19},
      {"t": "4", "e": 7748.84, "a": 11.19}
    ]
  },
  "resolve": {"axis": {"x": "independent", "y": "independent"}},
  "layer": [
    {
      "data": {"name": "curves"},
      "mark": {"type": "line", "strokeWidth": 2},
      "encoding": {
        "x": {"field": "e", "type": "quantitative", "scale": {"domain": [7700, 7780], "nice": false, "zero": false},
          "axis": {"orient": "bottom", "title": "Photon energy / eV", "values": [7700,7704,7708,7712,7716,7720,7724,7728,7732,7736,7740,7744,7748,7752,7756,7760,7764,7768,7772,7776,7780],
            "format": "d", "labelExpr": "datum.value % 20 == 0 ? datum.label : ''", "tickSize": -6, "labelPadding": 14, "labelFontSize": 30, "labelOverlap": false, "labelFlush": false,
            "titleFontSize": 30, "titleFontWeight": "bold", "titleX": 176.5, "titleY": 79, "titleBaseline": "alphabetic", "titleAlign": "center"}},
        "y": {"field": "a", "type": "quantitative", "scale": {"domain": [0, 12], "nice": false, "zero": false},
          "axis": {"orient": "left", "title": "Normalized absorption / a.u.", "values": [0,1,2,3,4,5,6,7,8,9,10,11,12], "labels": false, "tickSize": -6,
            "titleFontSize": 30, "titleFontWeight": "bold", "titleX": -61, "titleY": 237, "titleBaseline": "alphabetic", "titleAlign": "center", "titleAngle": -90}},
        "color": {"field": "s", "type": "nominal", "legend": null,
          "scale": {"domain": ["-1.5 V","-1.3 V","-1.0 V","-0.7 V","-0.5 V","Co3O4","CoO","Co foil"],
            "range": ["#800080","#008000","#0000ff","#ff0000","#000000","#ff1090","#8000ff","#800000"]}}
      }
    },
    {
      "data": {"name": "smooth"},
      "mark": {"type": "line", "strokeWidth": 2, "interpolate": "monotone"},
      "encoding": {
        "x": {"field": "e", "type": "quantitative", "axis": null, "scale": {"domain": [7700, 7780], "nice": false, "zero": false}},
        "y": {"field": "a", "type": "quantitative", "axis": null, "scale": {"domain": [0, 12], "nice": false, "zero": false}},
        "color": {"field": "s", "type": "nominal", "legend": null,
          "scale": {"domain": ["-1.5 V","-1.3 V","-1.0 V","-0.7 V","-0.5 V","Co3O4","CoO","Co foil"],
            "range": ["#800080","#008000","#0000ff","#ff0000","#000000","#ff1090","#8000ff","#800000"]}}
      }
    },
    {
      "data": {"name": "curves"},
      "mark": {"type": "rule", "opacity": 0},
      "encoding": {
        "x": {"field": "e", "type": "quantitative", "scale": {"domain": [7700, 7780], "nice": false, "zero": false},
          "axis": {"orient": "top", "title": null, "labels": false, "tickSize": -6, "values": [7700,7704,7708,7712,7716,7720,7724,7728,7732,7736,7740,7744,7748,7752,7756,7760,7764,7768,7772,7776,7780]}},
        "y": {"field": "a", "type": "quantitative", "scale": {"domain": [0, 12], "nice": false, "zero": false},
          "axis": {"orient": "right", "title": null, "labels": false, "tickSize": -6, "values": [0,1,2,3,4,5,6,7,8,9,10,11,12]}}
      }
    },
    {
      "data": {"name": "refs"},
      "mark": {"type": "rule", "color": "black", "strokeWidth": 1, "strokeDash": [4, 3]},
      "encoding": {
        "x": {"field": "e", "type": "quantitative", "axis": null, "scale": {"domain": [7700, 7780], "nice": false, "zero": false}},
        "y": {"field": "top", "type": "quantitative", "axis": null, "scale": {"domain": [0, 12], "nice": false, "zero": false}},
        "y2": {"field": "bottom"}
      }
    },
    {
      "data": {"name": "labels"},
      "mark": {"type": "text", "align": "left", "baseline": "middle", "fontSize": 30, "color": "black", "font": "Liberation Sans"},
      "encoding": {
        "x": {"field": "e", "type": "quantitative", "axis": null, "scale": {"domain": [7700, 7780], "nice": false, "zero": false}},
        "y": {"field": "a", "type": "quantitative", "axis": null, "scale": {"domain": [0, 12], "nice": false, "zero": false}},
        "text": {"field": "t"}
      }
    },
    {
      "data": {"name": "labelSubs"},
      "mark": {"type": "text", "align": "left", "baseline": "middle", "fontSize": 20, "dy": 9, "color": "black", "font": "Liberation Sans"},
      "encoding": {
        "x": {"field": "e", "type": "quantitative", "axis": null, "scale": {"domain": [7700, 7780], "nice": false, "zero": false}},
        "y": {"field": "a", "type": "quantitative", "axis": null, "scale": {"domain": [0, 12], "nice": false, "zero": false}},
        "text": {"field": "t"}
      }
    },
    {
      "data": {"name": "note"},
      "mark": {"type": "text", "align": "left", "baseline": "middle", "fontSize": 21, "color": "black", "font": "Liberation Sans"},
      "encoding": {
        "x": {"field": "e", "type": "quantitative", "axis": null, "scale": {"domain": [7700, 7780], "nice": false, "zero": false}},
        "y": {"field": "a", "type": "quantitative", "axis": null, "scale": {"domain": [0, 12], "nice": false, "zero": false}},
        "text": {"field": "t"}
      }
    },
    {
      "data": {"name": "species"},
      "mark": {"type": "text", "align": "left", "baseline": "middle", "fontSize": 28, "color": "#ff0000", "font": "Liberation Sans"},
      "encoding": {
        "x": {"field": "e", "type": "quantitative", "axis": null, "scale": {"domain": [7700, 7780], "nice": false, "zero": false}},
        "y": {"field": "a", "type": "quantitative", "axis": null, "scale": {"domain": [0, 12], "nice": false, "zero": false}},
        "text": {"field": "t"}
      }
    },
    {
      "data": {"name": "speciesSup"},
      "mark": {"type": "text", "align": "left", "baseline": "middle", "fontSize": 20, "dy": -10, "color": "#ff0000", "font": "Liberation Sans"},
      "encoding": {
        "x": {"field": "e", "type": "quantitative", "axis": null, "scale": {"domain": [7700, 7780], "nice": false, "zero": false}},
        "y": {"field": "a", "type": "quantitative", "axis": null, "scale": {"domain": [0, 12], "nice": false, "zero": false}},
        "text": {"field": "t"}
      }
    },
    {
      "data": {"name": "speciesSub"},
      "mark": {"type": "text", "align": "left", "baseline": "middle", "fontSize": 20, "dy": 9, "color": "#ff0000", "font": "Liberation Sans"},
      "encoding": {
        "x": {"field": "e", "type": "quantitative", "axis": null, "scale": {"domain": [7700, 7780], "nice": false, "zero": false}},
        "y": {"field": "a", "type": "quantitative", "axis": null, "scale": {"domain": [0, 12], "nice": false, "zero": false}},
        "text": {"field": "t"}
      }
    }
  ]
}
